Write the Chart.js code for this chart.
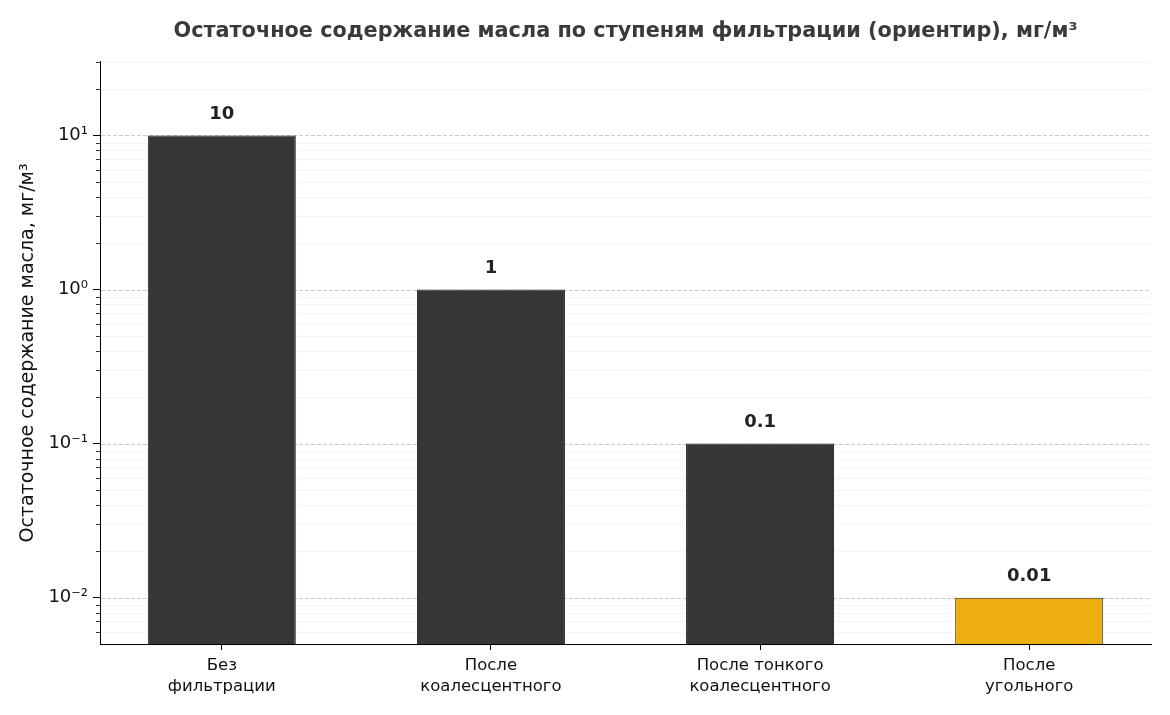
<!DOCTYPE html>
<html>
<head>
<meta charset="utf-8">
<script src="https://cdn.jsdelivr.net/npm/chart.js@4"></script>
<style>
  html, body { margin: 0; padding: 0; background: #fff; }
  #box { width: 1170px; height: 715px; }
</style>
</head>
<body>
<div id="box"><canvas id="grafico"></canvas></div>
<script>
// dados do gráfico
const categorias = [['Без', 'фильтрации'], ['После', 'коалесцентного'], ['После тонкого', 'коалесцентного'], ['После', 'угольного']];
const valores = [10, 1, 0.1, 0.01];
const cores = ['#373535', '#373535', '#373535', '#EDAE10'];
const bordas = ['#222222', '#222222', '#222222', '#3a2e10'];
const rotulos = ['10', '1', '0.1', '0.01'];
const ticksY = [0.01, 0.1, 1, 10];
const ticksYTexto = ['10⁻²', '10⁻¹', '10⁰', '10¹'];

const fonte = "'DejaVu Sans', sans-serif";

// linhas de grade (principais tracejadas, secundárias bem claras) + marcas menores no eixo
const gradePlugin = {
  id: 'grade',
  beforeDatasetsDraw(chart) {
    const ctx = chart.ctx;
    const y = chart.scales.y;
    const area = chart.chartArea;
    ctx.save();
    for (let e = -3; e <= 1; e++) {
      for (let m = 1; m <= 9; m++) {
        const v = m * Math.pow(10, e);
        if (v <= y.min * 1.001 || v > y.max * 1.001) continue;
        const py = Math.round(y.getPixelForValue(v)) + 0.5;
        ctx.beginPath();
        if (m === 1) {
          ctx.strokeStyle = '#bdbdbd';
          ctx.lineWidth = 0.8;
          ctx.setLineDash([4, 2]);
        } else {
          ctx.strokeStyle = '#f2f2f2';
          ctx.lineWidth = 0.8;
          ctx.setLineDash([]);
        }
        ctx.moveTo(area.left + 1, py);
        ctx.lineTo(area.right, py);
        ctx.stroke();
        if (m !== 1) {
          ctx.setLineDash([]);
          ctx.strokeStyle = '#000';
          ctx.lineWidth = 0.8;
          ctx.beginPath();
          ctx.moveTo(area.left - 4, py);
          ctx.lineTo(area.left, py);
          ctx.stroke();
        }
      }
    }
    ctx.restore();
  },
  afterDatasetsDraw(chart) {
    const ctx = chart.ctx;
    const meta = chart.getDatasetMeta(0);
    ctx.save();
    ctx.font = 'bold 18px ' + fonte;
    ctx.fillStyle = '#222';
    ctx.textAlign = 'center';
    ctx.textBaseline = 'middle';
    meta.data.forEach((bar, i) => {
      ctx.fillText(rotulos[i], bar.x, bar.y - 21);
    });
    ctx.restore();
  }
};

let grafico = new Chart(document.getElementById('grafico').getContext('2d'), {
  type: 'bar',
  data: {
    datasets: [{
      data: valores.map((v, i) => ({ x: i, y: v })),
      backgroundColor: cores,
      borderColor: bordas,
      borderWidth: 1,
      barPercentage: 0.55,
      categoryPercentage: 1
    }]
  },
  options: {
    responsive: true,
    maintainAspectRatio: false,
    animation: false,
    devicePixelRatio: 1,
    layout: { padding: { left: 0, right: 19, top: 0, bottom: 0 } },
    plugins: {
      legend: { display: false },
      tooltip: { enabled: false },
      title: {
        display: true,
        fullSize: false,
        text: 'Остаточное содержание масла по ступеням фильтрации (ориентир), мг/м³',
        color: '#3a3a3a',
        font: { family: fonte, size: 20.8, weight: 'bold' },
        padding: { top: 19, bottom: 18 }
      }
    },
    scales: {
      x: {
        type: 'linear',
        min: -0.4525,
        max: 3.4525,
        offset: false,
        afterBuildTicks: (s) => { s.ticks = [0, 1, 2, 3].map(v => ({ value: v })); },
        afterFit: (s) => { s.height = 71; },
        ticks: {
          callback: (v) => categorias[v],
          color: '#111',
          font: { family: fonte, size: 16.5, lineHeight: 1.27 },
          padding: 5,
          maxRotation: 0,
          autoSkip: false
        },
        grid: { display: true, offset: false, drawOnChartArea: false, drawTicks: true, tickLength: 6, color: '#000', lineWidth: 1 },
        border: { display: true, color: '#000', width: 1 }
      },
      y: {
        type: 'logarithmic',
        min: 0.005,
        max: 30,
        afterBuildTicks: (s) => { s.ticks = ticksY.map(v => ({ value: v })); },
        afterFit: (s) => { s.width = 100; },
        ticks: {
          callback: (v) => ticksYTexto[ticksY.indexOf(v)],
          color: '#111',
          font: { family: fonte, size: 18 },
          padding: 5
        },
        grid: { display: true, drawOnChartArea: false, drawTicks: true, tickLength: 7, color: '#000', lineWidth: 1 },
        border: { display: true, color: '#000', width: 1 },
        title: {
          display: true,
          text: 'Остаточное содержание масла, мг/м³',
          color: '#111',
          font: { family: fonte, size: 19 },
          padding: { top: 17, bottom: 0 }
        }
      }
    }
  },
  plugins: [gradePlugin]
});
</script>
</body>
</html>
